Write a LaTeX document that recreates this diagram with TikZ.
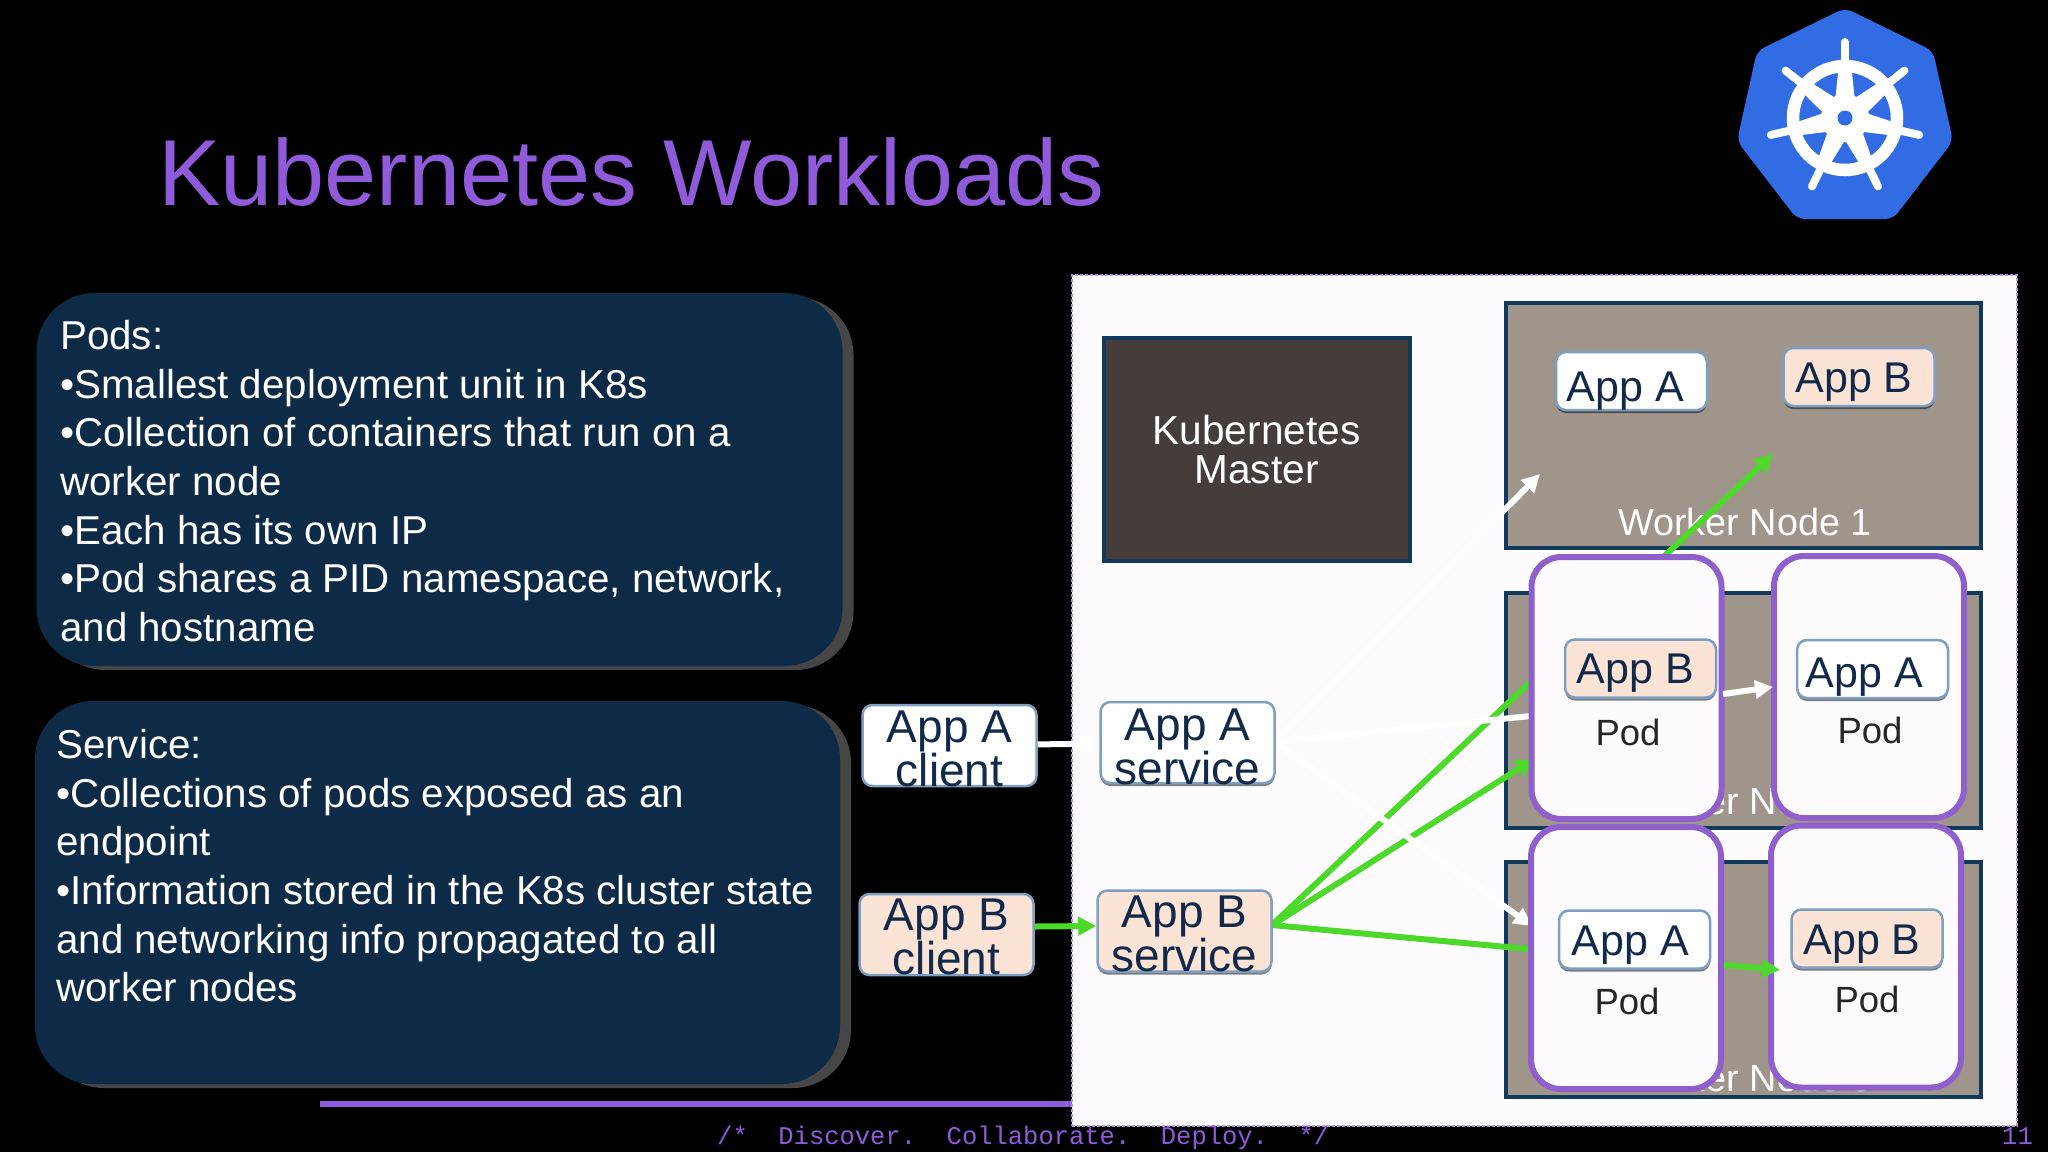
\documentclass[tikz,border=0pt]{standalone}
\usepackage{fontspec}
\setmainfont{Liberation Sans}
\setmonofont{Liberation Mono}
\usetikzlibrary{arrows.meta,shadows}

\definecolor{titlepurple}{HTML}{8F5BDB}
\definecolor{notenavy}{HTML}{0D2A47}
\definecolor{noteshadow}{HTML}{464646}
\definecolor{panelwhite}{HTML}{FDFBFE}
\definecolor{panelline}{HTML}{B595E4}
\definecolor{masterbrown}{HTML}{443D3A}
\definecolor{workertan}{HTML}{A0958B}
\definecolor{boxnavy}{HTML}{0F3A5C}
\definecolor{podpurple}{HTML}{8F60CC}
\definecolor{appline}{HTML}{7C9FC2}
\definecolor{apppeach}{HTML}{FBE4D6}
\definecolor{apptext}{HTML}{12294A}
\definecolor{arrowgreen}{HTML}{4DD92A}
\definecolor{kubeblue}{HTML}{326CE5}

\tikzset{
  notebox/.style={rectangle, rounded corners=58pt, fill=notenavy,
    general shadow={fill=noteshadow, shadow xshift=11pt, shadow yshift=-4pt}},
  notetext/.style={anchor=north west, inner sep=0pt, align=left, text=white,
    font=\fontsize{40.3}{48.7}\selectfont},
  workerbox/.style={rectangle, draw=boxnavy, line width=4pt, fill=workertan},
  workertext/.style={text=white, font=\fontsize{37.8}{44}\selectfont},
  podbox/.style={rectangle, rounded corners=30pt, draw=podpurple, line width=6pt, fill=panelwhite,
    minimum width=190pt, minimum height=262pt,
    drop shadow={fill=black, opacity=0.35, shadow xshift=1pt, shadow yshift=-2pt}},
  podtext/.style={text=black!85, font=\fontsize{36.5}{40}\selectfont},
  appbox/.style={rectangle, rounded corners=10pt, draw=appline, line width=2.5pt, fill=white,
    drop shadow={fill=black, opacity=0.5, shadow xshift=0pt, shadow yshift=-3pt}},
  small app/.style={appbox, minimum width=151pt, minimum height=58pt},
  wide app/.style={appbox, minimum width=174pt, minimum height=81pt},
  one line/.style={text=apptext, font=\fontsize{43}{44}\selectfont},
  two lines/.style={text=apptext, align=center, inner sep=0pt, font=\fontsize{46}{42}\selectfont},
  greenline/.style={draw=arrowgreen, line width=6pt, -{Triangle[length=18pt,width=18pt]}},
  whiteline/.style={draw=white, line width=6pt, -{Triangle[length=18pt,width=18pt]}},
}

\begin{document}
\begin{tikzpicture}[x=1pt, y=-1pt]
\path[fill=black, use as bounding box] (0,0) rectangle (2048,1152);

\node[anchor=base west, inner sep=0pt, text=titlepurple, font=\fontsize{93.7}{100}\selectfont] (title) at (158,205) {Kubernetes Workloads};

\fill[kubeblue, rounded corners=8pt] (1845,8) -- (1933,51) -- (1953,141) -- (1893,219) -- (1797,219) -- (1737,141) -- (1757,51) -- cycle;
\begin{scope}[shift={(1845,118)}, white]
\draw[line width=12.5pt] (0pt,0pt) circle[radius=52pt];
\fill (0pt,0pt) circle[radius=24pt];
\foreach \a in {90,141.43,192.86,244.29,295.71,347.14,38.57}{
  \begin{scope}[rotate=\a]
  \fill (16pt,-10pt) -- (50pt,-6.5pt) -- (50pt,6.5pt) -- (16pt,10pt) -- cycle;
  \draw[line width=8pt, line cap=round] (50pt,0pt) -- (76pt,0pt);
  \end{scope}
}
\fill[kubeblue] (0pt,0pt) circle[radius=7.5pt];
\end{scope}

\node[notebox, minimum width=806pt, minimum height=373pt] (podsbox) at (439.5,479.5) {};
\node[notetext] (podstext) at (60,320) {Pods:\\•Smallest deployment unit in K8s\\•Collection of containers that run on a\\worker node\\•Each has its own IP\\•Pod shares a PID namespace, network,\\and hostname};
\node[notebox, minimum width=805pt, minimum height=383pt] (servicebox) at (437.5,892.5) {};
\node[notetext] (servicetext) at (56,729) {Service:\\•Collections of pods exposed as an\\endpoint\\•Information stored in the K8s cluster state\\and networking info propagated to all\\worker nodes};

\coordinate (rulestart) at (320,1104);
\coordinate (ruleend)   at (1072,1104);
\draw[titlepurple, line width=6pt] (rulestart) -- (ruleend);

\node[rectangle, fill=panelwhite, draw=panelline, line width=1.5pt, densely dashed, minimum width=945pt, minimum height=851pt] (panel) at (1544.5,700.5) {};

\node[rectangle, draw=boxnavy, line width=4pt, fill=masterbrown, minimum width=306pt, minimum height=223pt, align=center, text=white, font=\fontsize{40.6}{39}\selectfont] (master) at (1256.5,449.5) {Kubernetes\\Master};

\node[workerbox, minimum width=475pt, minimum height=245pt] (workerone)   at (1743.5,425) {};
\node[workerbox, minimum width=475pt, minimum height=235pt] (workertwo)   at (1743.5,710) {};
\node[workerbox, minimum width=475pt, minimum height=235pt] (workerthree) at (1743.5,979) {};
\node[workertext] (workeronetext)   at (1745,522)  {Worker Node 1};
\node[workertext] (workertwotext)   at (1745,801)  {Worker Node 2};
\node[workertext] (workerthreetext) at (1745,1078) {Worker Node 3};

\node[small app, label={[one line, xshift=-6pt, yshift=-10pt]center:App A}] (oneappa) at (1631.5,381)   {};
\node[small app, fill=apppeach, label={[one line, xshift=-5pt, yshift=-5pt]center:App B}] (oneappb) at (1859,377) {};

\coordinate (toworkera) at (1540,474);
\coordinate (toworkerb) at (1773,454);
\coordinate (topoda)    at (1560,713);
\coordinate (topodb)    at (1534,759);
\coordinate (topodc)    at (1532,926);
\coordinate (topodd)    at (1560,952);
\coordinate (fromserva) at (1275,742);
\coordinate (fromservb) at (1272,925);

\path
(fromservb) edge[greenline] (toworkerb)
(fromservb) edge[greenline] (topodb)
(fromservb) edge[greenline] (topodd)
(fromserva) edge[whiteline] (toworkera)
(fromserva) edge[whiteline] (topoda)
(fromserva) edge[whiteline] (topodc)
;

\node[podbox] (podone)   at (1626.5,688)  {};
\node[podbox] (podtwo)   at (1869,687)    {};
\node[podbox] (podthree) at (1626,958)    {};
\node[podbox] (podfour)  at (1866,956.5)  {};

\node[small app, fill=apppeach, label={[one line, xshift=-5pt, yshift=-5pt]center:App B}] (podoneapp)   at (1640.5,668.5) {};
\node[small app, label={[one line, xshift=-8pt, yshift=-8pt]center:App A}] (podtwoapp)   at (1872.5,669)   {};
\node[small app, label={[one line, xshift=-4pt, yshift=-6pt]center:App A}] (podthreeapp) at (1634.5,939.5) {};
\node[small app, fill=apppeach, label={[one line, xshift=-5pt, yshift=-6pt]center:App B}] (podfourapp)  at (1867,938.5)  {};

\node[podtext] (podonetext)   at (1628,732)  {Pod};
\node[podtext] (podtwotext)   at (1870,730)  {Pod};
\node[podtext] (podthreetext) at (1627,1001) {Pod};
\node[podtext] (podfourtext)  at (1867,999)  {Pod};

\coordinate (frompodone)   at (1723,694);
\coordinate (intopodtwo)   at (1773,687);
\coordinate (frompodthree) at (1724,965);
\coordinate (intopodfour)  at (1780,970);

\path
(frompodone) edge[whiteline] (intopodtwo)
(frompodthree) edge[greenline] (intopodfour)
;

\node[wide app, label={[two lines, yshift=-3pt]center:App A\\client}]  (clienta)  at (949.5,745.5) {};
\node[wide app, fill=apppeach, label={[two lines, yshift=-2pt]center:App B\\client}]  (clientb)  at (946.5,934.5) {};
\node[wide app, label={[two lines, yshift=-4pt]center:App A\\service}] (servicea) at (1187.5,742.5)  {};
\node[wide app, fill=apppeach, label={[two lines, yshift=-3pt]center:App B\\service}] (serviceb) at (1184.5,931)    {};

\path
(clienta) edge[whiteline] (servicea)
([yshift=8pt]clientb.east) edge[greenline] ([yshift=5pt]serviceb.west)
;

\node[anchor=base west, inner sep=0pt, text=titlepurple, font=\ttfamily\fontsize{25.5}{28}\selectfont] (footer) at (717,1144) {/*~~Discover.~~Collaborate.~~Deploy.~~*/};
\node[anchor=base east, inner sep=0pt, text=titlepurple, font=\ttfamily\fontsize{25.5}{28}\selectfont] (pagenum) at (2033,1144) {11};
\end{tikzpicture}
\end{document}
